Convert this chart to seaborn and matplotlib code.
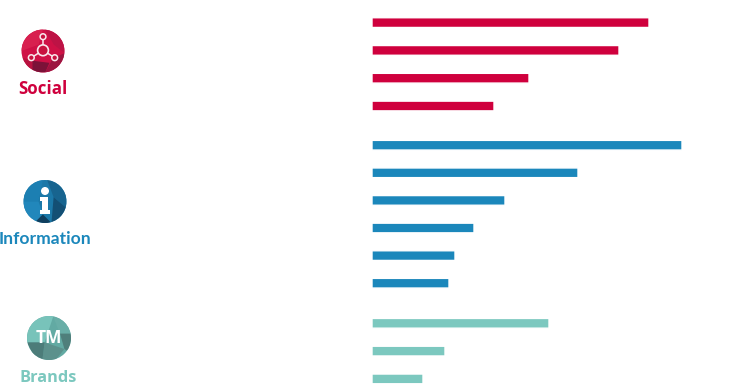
import matplotlib
matplotlib.use('Agg')
import matplotlib.pyplot as plt
import pandas as pd
import seaborn as sns
from matplotlib.patches import Circle, Polygon

# bar lengths, no axis is shown so units are arbitrary
social_vals = [277, 247, 157, 122]
info_vals = [310, 206, 133, 102, 83, 77]
brand_vals = [177, 73, 51]

social_color = '#cf003d'
info_color = '#1b87bb'
brand_color = '#7cc8bf'

W, H = 753, 390
sns.set_theme(style='white')
plt.rcParams['font.family'] = ['Open Sans', 'DejaVu Sans']

fig = plt.figure(figsize=(W / 100, H / 100), dpi=100)


def bars(vals, color, first_y, step=27.6):
    # one axes per group, each row is step px tall
    top = first_y - step / 2
    h = step * len(vals)
    ax = fig.add_axes([372 / W, 1 - (top + h) / H, 340 / W, h / H])
    df = pd.DataFrame({'row': [str(i) for i in range(len(vals))], 'val': vals})
    sns.barplot(data=df, x='val', y='row', color=color, width=0.35, saturation=1, ax=ax)
    ax.set_xlim(0, 340)
    ax.axis('off')
    for p in ax.patches:
        p.set_snap(False)
    return ax


bars(social_vals, social_color, 22.6, step=27.8)
bars(info_vals, info_color, 145.2)
bars(brand_vals, brand_color, 323.3, step=27.8)

# overlay in pixel coords for the icons
ov = fig.add_axes([0, 0, 1, 1])
ov.set_xlim(0, W)
ov.set_ylim(H, 0)
ov.axis('off')
ov.patch.set_alpha(0)


def icon(cx, cy, r, base, facets):
    circ = Circle((cx, cy), r, color=base, lw=0)
    ov.add_patch(circ)
    for pts, c in facets:
        p = Polygon([(cx + a * r, cy + b * r) for a, b in pts], color=c, lw=0)
        ov.add_patch(p)
        p.set_clip_path(circ)


icon(43, 51, 21.5, '#cf1146', [
    ([(-1, -1), (0, -1), (-0.2, -0.3), (-1, 0)], '#d8204f'),
    ([(0.1, -1), (1, -1), (1, 0.1), (0.5, -0.3)], '#bd1345'),
    ([(1, 0.1), (0.45, 0.35), (0.1, 1), (1, 1)], '#9c1540'),
    ([(-0.5, 0.45), (0.3, 0.55), (0.1, 1), (-0.5, 1)], '#7c1238'),
    ([(-1, 0.3), (-0.5, 0.45), (-0.5, 1), (-1, 1)], '#b8123f'),
])
icon(45, 201.5, 21.5, '#1b78a8', [
    ([(-1, -1), (-0.1, -1), (-0.3, 0), (-1, 0)], '#1c7fb2'),
    ([(-1, 0), (-0.3, 0), (-0.1, 0.6), (-0.5, 1), (-1, 1)], '#2187bb'),
    ([(0.1, -1), (1, -1), (1, 0.3), (0.4, -0.2)], '#17648f'),
    ([(0.4, -0.2), (1, 0.3), (1, 1), (0.3, 1)], '#134f74'),
    ([(-0.5, 1), (-0.1, 0.6), (0.3, 1)], '#103f5e'),
])
icon(49, 338, 22, '#62aaa3', [
    ([(-1, -1), (0.2, -1), (-0.2, 0.2), (-1, 0.2)], '#78c3ba'),
    ([(0.2, -1), (1, -1), (1, -0.2), (0.5, -0.2)], '#69aea7'),
    ([(0.5, -0.2), (1, -0.2), (1, 0.7), (0.7, 0.5)], '#4f7f7b'),
    ([(-0.2, 0.2), (0.7, 0.5), (0.3, 1), (-0.3, 1)], '#5c918c'),
    ([(-1, 0.2), (-0.2, 0.2), (-0.3, 1), (-0.6, 1)], '#4c7c79'),
])

# social glyph
white = '#f9e8ec'
hub = (43, 50.3)
for x, y in [(43, 36.7), (31.3, 57.7), (54.7, 57.7)]:
    ov.plot([hub[0], x], [hub[1], y], color=white, lw=1.1, zorder=5)
    ov.add_patch(Circle((x, y), 2.9, fc='#c8123f', ec=white, lw=1.1, zorder=6))
ov.add_patch(Circle(hub, 5.4, fc='#c8123f', ec=white, lw=1.2, zorder=6))

# info glyph
ov.add_patch(Circle((45, 191), 4, color='white', lw=0, zorder=6))
ov.add_patch(Polygon([(40, 197), (48, 197), (48, 210.3), (50.3, 210.3), (50.3, 214),
                      (39.7, 214), (39.7, 210.3), (42.5, 210.3), (42.5, 200.5), (40, 200.5)],
                     color='white', lw=0, zorder=6))

ov.text(48.5, 338, 'TM', color='white', fontsize=12.5, fontweight='bold', ha='center', va='center', zorder=6)

ov.text(43, 88.5, 'Social', color=social_color, fontsize=12.2, fontweight='bold', ha='center', va='center')
ov.text(45, 238.5, 'Information', color=info_color, fontsize=12.6, fontweight='bold',
        family='Lato', ha='center', va='center')
ov.text(48, 377.5, 'Brands', color=brand_color, fontsize=11.8, fontweight='bold', ha='center', va='center')

fig.savefig('out.png', dpi=100, facecolor='white')
